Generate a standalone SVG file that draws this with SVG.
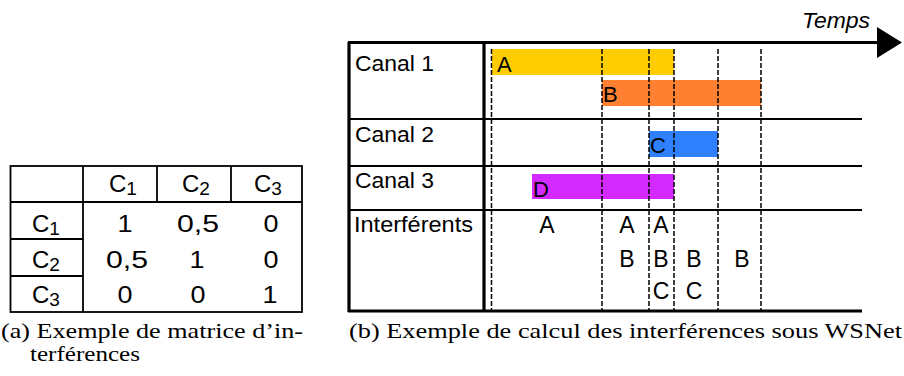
<svg xmlns="http://www.w3.org/2000/svg" width="904" height="376" viewBox="0 0 904 376">
<style>
.ln{stroke:#000;stroke-width:1.8;fill:none}
.thk{stroke:#000;stroke-width:3.2;fill:none}
.dash{stroke:#000;stroke-width:1.5;stroke-dasharray:5 2;fill:none}
.t{font-family:"Liberation Sans",Arial,sans-serif;font-size:22px;fill:#000}
.m{font-family:"Liberation Sans",Arial,sans-serif;font-size:23px;fill:#000}
.h{font-family:"Liberation Sans",Arial,sans-serif;font-size:24px;fill:#000}
.c{text-anchor:middle}
.sub{font-size:19px}
.cap{font-family:"Liberation Serif","Times New Roman",serif;font-size:21px;fill:#000}
</style>
<rect width="904" height="376" fill="#fff"/>

<g id="matrix">
  <rect class="ln" x="10.5" y="166" width="291.5" height="146"/>
  <line class="ln" x1="83" y1="166" x2="83" y2="312"/>
  <line class="ln" x1="10" y1="202" x2="302" y2="202"/>
  <line class="ln" x1="157" y1="166" x2="157" y2="202"/>
  <line class="ln" x1="231" y1="166" x2="231" y2="202"/>
  <line class="ln" x1="10" y1="239" x2="83" y2="239"/>
  <line class="ln" x1="10" y1="276" x2="83" y2="276"/>
  <text class="h" x="109" y="192">C<tspan class="sub" dy="3">1</tspan></text>
  <text class="h" x="182" y="192">C<tspan class="sub" dy="3">2</tspan></text>
  <text class="h" x="254" y="192">C<tspan class="sub" dy="3">3</tspan></text>
  <text class="h" x="32" y="232">C<tspan class="sub" dy="3">1</tspan></text>
  <text class="h" x="32" y="268">C<tspan class="sub" dy="3">2</tspan></text>
  <text class="h" x="32" y="303">C<tspan class="sub" dy="3">3</tspan></text>
  <text class="h c" x="125" y="232" textLength="15" lengthAdjust="spacingAndGlyphs">1</text>
  <text class="h c" x="198" y="232" textLength="42" lengthAdjust="spacingAndGlyphs">0,5</text>
  <text class="h c" x="271" y="232" textLength="15" lengthAdjust="spacingAndGlyphs">0</text>
  <text class="h c" x="127" y="268" textLength="42" lengthAdjust="spacingAndGlyphs">0,5</text>
  <text class="h c" x="197" y="268" textLength="15" lengthAdjust="spacingAndGlyphs">1</text>
  <text class="h c" x="271" y="268" textLength="15" lengthAdjust="spacingAndGlyphs">0</text>
  <text class="h c" x="125" y="303" textLength="15" lengthAdjust="spacingAndGlyphs">0</text>
  <text class="h c" x="198" y="303" textLength="15" lengthAdjust="spacingAndGlyphs">0</text>
  <text class="h c" x="270" y="303" textLength="15" lengthAdjust="spacingAndGlyphs">1</text>
</g>

<g id="bars">
  <g id="barA"><rect x="492" y="49" width="182" height="26" fill="#FFCC00"/><text class="t" x="497" y="72">A</text></g>
  <g id="barB"><rect x="602" y="80" width="159" height="26" fill="#FF8030"/><text class="t" x="603" y="102">B</text></g>
  <g id="barC"><rect x="649" y="131" width="69" height="26" fill="#2F80FF"/><text class="t" x="650" y="153">C</text></g>
  <g id="barD"><rect x="532" y="174" width="142" height="25" fill="#D42AFF"/><text class="t" x="533" y="197">D</text></g>
</g>

<g id="grid">
  <line class="ln" x1="349" y1="119" x2="862" y2="119"/>
  <line class="ln" x1="349" y1="166" x2="862" y2="166"/>
  <line class="ln" x1="349" y1="210" x2="862" y2="210"/>
  <line class="thk" x1="349" y1="42" x2="349" y2="312"/>
  <line class="thk" x1="484" y1="42" x2="484" y2="312"/>
  <line class="thk" x1="348" y1="311" x2="862" y2="311"/>
  <line class="dash" x1="491.5" y1="49" x2="491.5" y2="311"/>
  <line class="dash" x1="602" y1="49" x2="602" y2="311"/>
  <line class="dash" x1="649" y1="49" x2="649" y2="311"/>
  <line class="dash" x1="674" y1="49" x2="674" y2="311"/>
  <line class="dash" x1="718" y1="49" x2="718" y2="311"/>
  <line class="dash" x1="761" y1="49" x2="761" y2="311"/>
</g>

<g id="labels">
  <text class="t" x="355" y="71" textLength="79" lengthAdjust="spacingAndGlyphs">Canal 1</text>
  <text class="t" x="355" y="142" textLength="79" lengthAdjust="spacingAndGlyphs">Canal 2</text>
  <text class="t" x="355" y="188" textLength="79" lengthAdjust="spacingAndGlyphs">Canal 3</text>
  <text class="t" x="354" y="232" textLength="119" lengthAdjust="spacingAndGlyphs">Interférents</text>
</g>

<g id="interferents">
  <text class="m c" x="547" y="233">A</text>
  <text class="m c" x="627" y="233">A</text>
  <text class="m c" x="627" y="267">B</text>
  <text class="m c" x="661" y="233">A</text>
  <text class="m c" x="661" y="267">B</text>
  <text class="m c" x="661" y="299">C</text>
  <text class="m c" x="694" y="267">B</text>
  <text class="m c" x="694" y="299">C</text>
  <text class="m c" x="742" y="267">B</text>
</g>

<g id="connectors">
  <line class="thk" x1="348" y1="42.5" x2="880" y2="42.5"/>
  <polygon points="877,27 902,42.5 877,58" fill="#000"/>
  <text class="t" x="802" y="28" font-style="italic" textLength="68" lengthAdjust="spacingAndGlyphs">Temps</text>
</g>

<g id="captions">
  <text class="cap" x="1" y="338" textLength="302" lengthAdjust="spacingAndGlyphs">(a) Exemple de matrice d’in-</text>
  <text class="cap" x="30" y="361" textLength="110" lengthAdjust="spacingAndGlyphs">terférences</text>
  <text class="cap" x="349" y="338" textLength="553" lengthAdjust="spacingAndGlyphs">(b) Exemple de calcul des interférences sous WSNet</text>
</g>
</svg>
